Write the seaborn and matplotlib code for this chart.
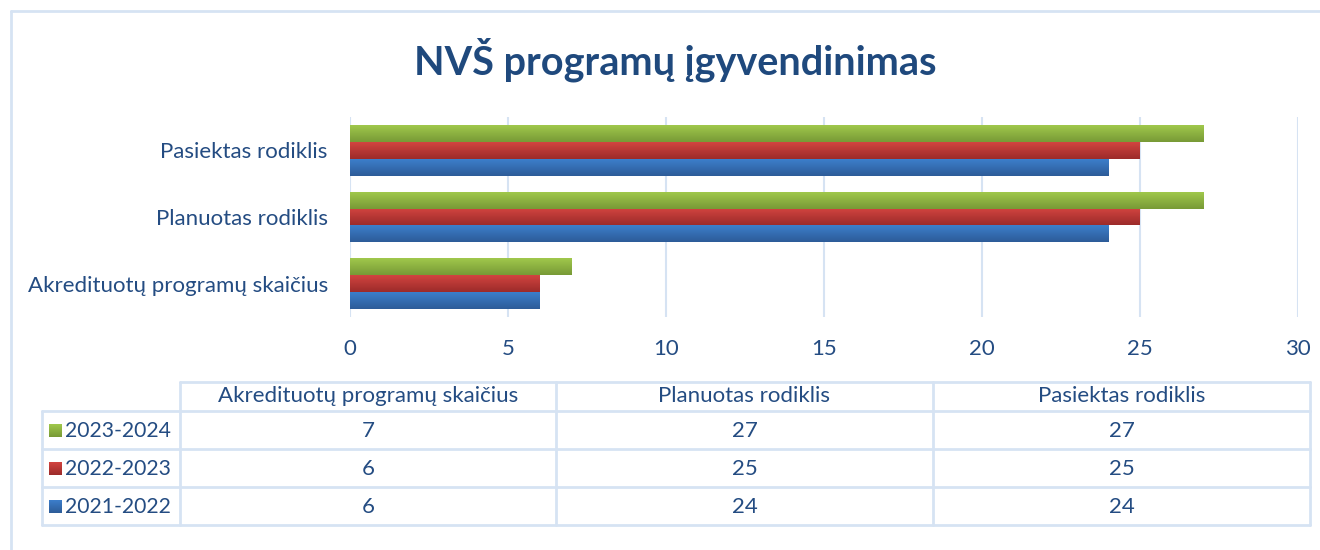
import numpy as np
import pandas as pd
import matplotlib
matplotlib.use("Agg")
import matplotlib.pyplot as plt
from matplotlib.colors import LinearSegmentedColormap
import seaborn as sns

# ------------------------------------------------------------------
# Data
# ------------------------------------------------------------------
categories = ["Akredituotų programų skaičius", "Planuotas rodiklis", "Pasiektas rodiklis"]
seasons = ["2023-2024", "2022-2023", "2021-2022"]
vals_2023_2024 = [7, 27, 27]
vals_2022_2023 = [6, 25, 25]
vals_2021_2022 = [6, 24, 24]
x_ticks = [0, 5, 10, 15, 20, 25, 30]
title = "NVŠ programų įgyvendinimas"

series = {"2023-2024": vals_2023_2024, "2022-2023": vals_2022_2023, "2021-2022": vals_2021_2022}
df = pd.DataFrame([(s, c, v) for s, vals in series.items() for c, v in zip(categories, vals)],
                  columns=["season", "category", "value"])

# light (top) / dark (bottom) shades per season
shades = {"2023-2024": ("#a0c84c", "#789a36"),
          "2022-2023": ("#d24440", "#9c2b2a"),
          "2021-2022": ("#3c7ecb", "#2d5c98")}
palette = {s: shades[s][1] for s in seasons}

TXT = "#244c82"
GRID = "#d6e3f3"

sns.set_theme(style="white")
plt.rcParams["font.family"] = ["Lato", "DejaVu Sans"]

fig = plt.figure(figsize=(13.2, 5.5), dpi=100)

# ------------------------------------------------------------------
# Bar chart
# ------------------------------------------------------------------
ax = fig.add_axes([350 / 1320, 1 - 317 / 550, 948 / 1320, 200 / 550])
sns.barplot(data=df, x="value", y="category", hue="season",
            order=categories[::-1], hue_order=seasons, palette=palette,
            width=0.76, legend=False, ax=ax, saturation=1, linewidth=0)

ax.set_xlim(0, 30)
ax.set_xticks(x_ticks)
ax.set_ylim(2.5, -0.5)
ax.grid(axis="x", color=GRID, linewidth=1.5)
ax.set_axisbelow(True)
for sp in ax.spines.values():
    sp.set_visible(False)
ax.set_xlabel("")
ax.set_ylabel("")
ax.tick_params(axis="x", length=0, pad=16, labelsize=16, labelcolor=TXT)
ax.tick_params(axis="y", length=0, pad=16, labelsize=16, labelcolor=TXT)

# vertical gradient on every bar
grad = np.linspace(0, 1, 64).reshape(-1, 1)
n_cat = len(categories)
for i, p in enumerate(ax.patches):
    s = seasons[i // n_cat]
    cmap = LinearSegmentedColormap.from_list(s, shades[s])
    x0, y0 = p.get_x(), p.get_y()
    w, h = p.get_width(), p.get_height()
    im = ax.imshow(grad, cmap=cmap, aspect="auto", origin="upper",
                   extent=(x0, x0 + w, y0 + h, y0), zorder=p.get_zorder() + 0.1)
    im.set_clip_path(p)
ax.set_xlim(0, 30)
ax.set_ylim(2.5, -0.5)

fig.text(675 / 1320, 1 - 60 / 550, title, ha="center", va="center",
         fontsize=28.5, fontweight="bold", color="#1f497d")

# ------------------------------------------------------------------
# Data table under the chart (pixel coordinates)
# ------------------------------------------------------------------
tab = fig.add_axes([0, 0, 1, 1], facecolor="none")
tab.set_xlim(0, 1320)
tab.set_ylim(550, 0)
tab.axis("off")

# outer frame of the chart area
tab.plot([11, 1320], [11, 11], color=GRID, lw=2)
tab.plot([11, 11], [11, 550], color=GRID, lw=2)

cols = [42, 180, 556, 933, 1310]
rows = [382, 411, 449, 487, 525]
lw = 2
# header row (no cell above label column)
tab.plot([cols[1], cols[-1]], [rows[0], rows[0]], color=GRID, lw=lw)
for r in rows[1:]:
    tab.plot([cols[0], cols[-1]], [r, r], color=GRID, lw=lw)
for c in cols:
    top = rows[0] if c != cols[0] else rows[1]
    tab.plot([c, c], [top, rows[-1]], color=GRID, lw=lw)

for j, c in enumerate(categories):
    xc = (cols[j + 1] + cols[j + 2]) / 2
    tab.text(xc, (rows[0] + rows[1]) / 2, c, ha="center", va="center",
             fontsize=16, color=TXT)

for i, s in enumerate(seasons):
    yc = (rows[i + 1] + rows[i + 2]) / 2
    cmap = LinearSegmentedColormap.from_list(s, shades[s])
    tab.imshow(grad, cmap=cmap, aspect="auto", origin="upper",
               extent=(49, 62, yc + 7, yc - 6))
    tab.text(65, yc + 1, s, ha="left", va="center", fontsize=15.2, color=TXT)
    for j, v in enumerate(series[s]):
        xc = (cols[j + 1] + cols[j + 2]) / 2
        tab.text(xc, yc + 1, str(v), ha="center", va="center", fontsize=16, color=TXT)
tab.set_xlim(0, 1320)
tab.set_ylim(550, 0)

fig.savefig("out.png", dpi=100, facecolor="white")
